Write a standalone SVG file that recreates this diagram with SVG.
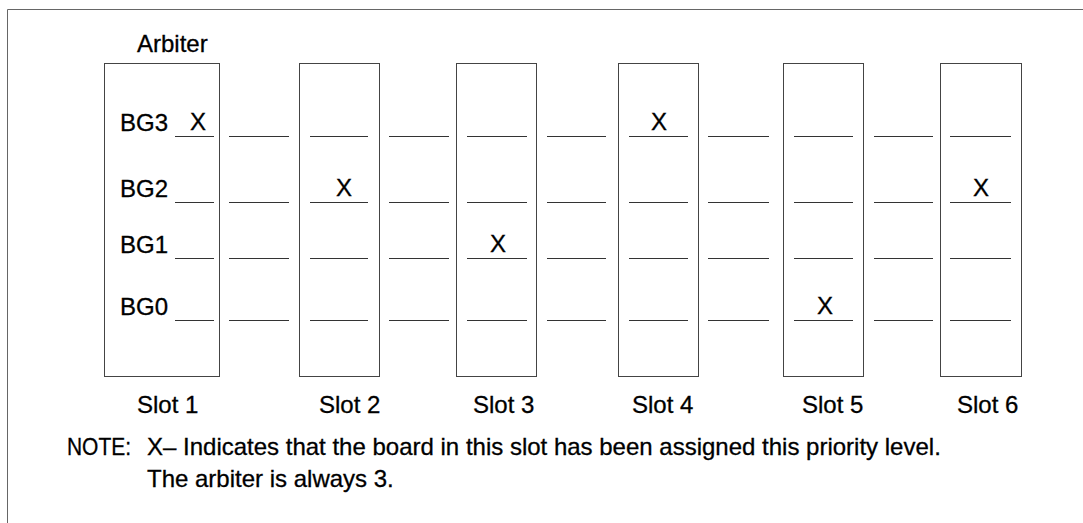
<svg xmlns="http://www.w3.org/2000/svg" width="1083" height="523" viewBox="0 0 1083 523">
<style>
text{font-family:"Liberation Sans",Arial,sans-serif;font-size:24px;fill:#000;stroke:#000;stroke-width:0.3}
.box{fill:none;stroke:#444;stroke-width:1}
.ln{stroke:#333;stroke-width:1.2;fill:none}
.x{text-anchor:middle}
.frame{fill:none;stroke:#666;stroke-width:1}
</style>
<rect width="1083" height="523" fill="#fff"/>
<path class="frame" d="M7.5,523 V9.5 H1083"/>
<text x="137" y="52">Arbiter</text>
<g id="slot1">
<rect class="box" x="104.5" y="63.5" width="115" height="313"/>
<text x="120" y="131">BG3</text>
<text x="120" y="197">BG2</text>
<text x="120" y="253">BG1</text>
<text x="120" y="315">BG0</text>
<path class="ln" d="M175,136.5H214M175,202.5H214M175,258.5H214M175,320.5H214"/>
<text class="x" x="198" y="130">X</text>
<text x="137" y="413">Slot 1</text>
</g>
<g id="slot2">
<rect class="box" x="299.5" y="63.5" width="80" height="313"/>
<path class="ln" d="M310,136.5H368M310,202.5H368M310,258.5H368M310,320.5H368"/>
<text class="x" x="344" y="196">X</text>
<text x="319" y="413">Slot 2</text>
</g>
<g id="slot3">
<rect class="box" x="456.5" y="63.5" width="80" height="313"/>
<path class="ln" d="M467,136.5H527M467,202.5H527M467,258.5H527M467,320.5H527"/>
<text class="x" x="498" y="252">X</text>
<text x="473" y="413">Slot 3</text>
</g>
<g id="slot4">
<rect class="box" x="618.5" y="63.5" width="80" height="313"/>
<path class="ln" d="M629,136.5H688M629,202.5H688M629,258.5H688M629,320.5H688"/>
<text class="x" x="659" y="130">X</text>
<text x="632" y="413">Slot 4</text>
</g>
<g id="slot5">
<rect class="box" x="783.5" y="63.5" width="80" height="313"/>
<path class="ln" d="M794,136.5H853M794,202.5H853M794,258.5H853M794,320.5H853"/>
<text class="x" x="825" y="314">X</text>
<text x="802" y="413">Slot 5</text>
</g>
<g id="slot6">
<rect class="box" x="940.5" y="63.5" width="81" height="313"/>
<path class="ln" d="M950,136.5H1011M950,202.5H1011M950,258.5H1011M950,320.5H1011"/>
<text class="x" x="981" y="196">X</text>
<text x="957" y="413">Slot 6</text>
</g>
<g id="connectors">
<path class="ln" d="M229,136.5H289M229,202.5H289M229,258.5H289M229,320.5H289"/>
<path class="ln" d="M389,136.5H449M389,202.5H449M389,258.5H449M389,320.5H449"/>
<path class="ln" d="M547,136.5H606M547,202.5H606M547,258.5H606M547,320.5H606"/>
<path class="ln" d="M708,136.5H769M708,202.5H769M708,258.5H769M708,320.5H769"/>
<path class="ln" d="M874,136.5H933M874,202.5H933M874,258.5H933M874,320.5H933"/>
</g>
<g id="note">
<text x="67" y="455" textLength="64" lengthAdjust="spacingAndGlyphs">NOTE:</text>
<text x="147" y="455">X– Indicates that the board in this slot has been assigned this priority level.</text>
<text x="147" y="487">The arbiter is always 3.</text>
</g>
</svg>
